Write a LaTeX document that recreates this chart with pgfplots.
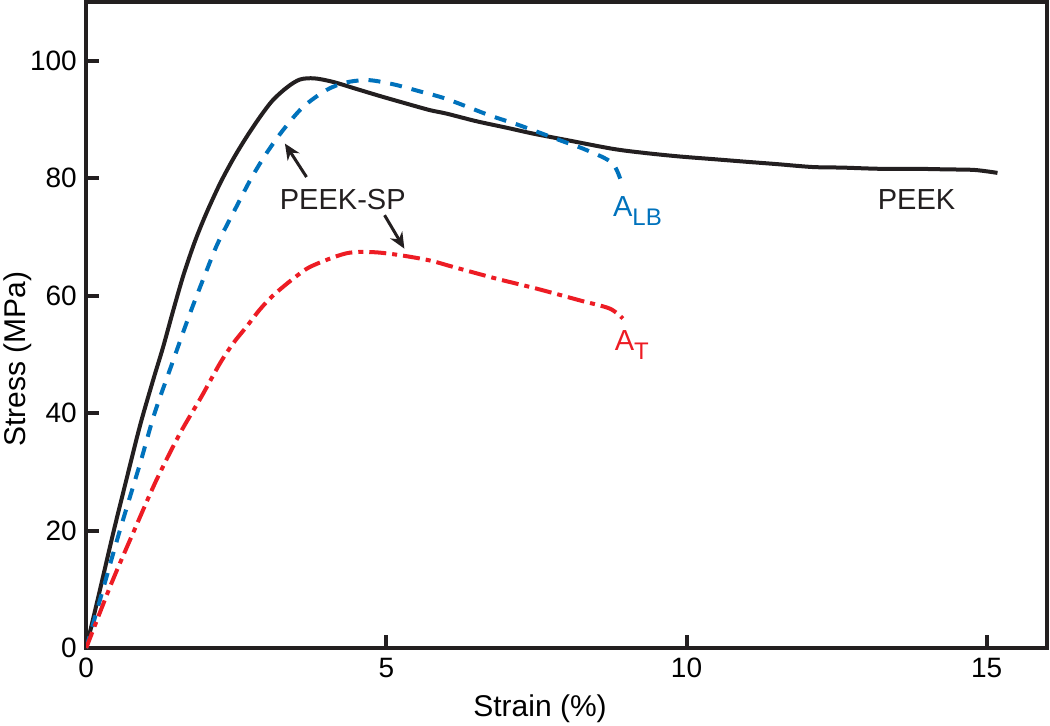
\documentclass[border=0pt]{standalone}
\usepackage{pgfplots}
\pgfplotsset{compat=1.18}
\usepackage{fontspec}
\setmainfont{Liberation Sans}
\usetikzlibrary{arrows.meta}
\definecolor{myblue}{RGB}{0,114,188}
\definecolor{myred}{RGB}{237,28,36}
\definecolor{myblack}{RGB}{35,31,32}
\begin{document}
\begin{tikzpicture}
\useasboundingbox (-43.1pt,-38.5pt) rectangle (481.9pt,324pt);
\begin{axis}[
  scale only axis, width=480.25pt, height=323pt,
  xmin=0, xmax=16, ymin=0, ymax=110,
  xtick={0,5,10,15}, ytick={0,20,40,60,80,100},
  tick align=inside, xtick pos=bottom, ytick pos=left,
  major tick length=6.5pt,
  major tick style={line width=2pt, myblack},
  axis line style={line width=2.2pt, myblack},
  /pgf/number format/assume math mode=true,
  ticklabel style={font=\fontsize{14}{16}\selectfont},
  yticklabel style={inner sep=0pt, anchor=east, xshift=-4.5pt},
  xticklabel style={inner sep=0pt, anchor=north, yshift=-5pt},
  xlabel={Strain (\%)}, ylabel={Stress (MPa)},
  label style={font=\fontsize{15}{18}\selectfont, inner sep=0pt},
  xlabel style={at={(axis description cs:0.4725,-0.1053)}, anchor=base},
  ylabel style={at={(axis description cs:-0.0635,0.447)}, anchor=base},
]
\addplot[myblack, line width=2pt, smooth, tension=0.5] coordinates {
(0,0) (0.22,9.5) (0.46,20) (0.69,29.5) (0.9,38) (1.12,45.8) (1.28,51.2) (1.45,57.5)
(1.62,63.5) (1.81,69.2) (2.0,74) (2.23,79.1) (2.45,83.3) (2.67,87.0) (2.9,90.5)
(3.11,93.3) (3.35,95.5) (3.56,96.8) (3.8,97.0) (4.11,96.4) (4.5,95.2) (4.89,94.0)
(5.3,92.8) (5.72,91.6) (6.0,91.0) (6.5,89.7) (7.0,88.6) (7.44,87.6) (8.0,86.5)
(8.77,85.0) (9.3,84.3) (9.88,83.7) (10.5,83.2) (10.99,82.8) (11.5,82.4) (12.1,81.9)
(12.6,81.8) (13.21,81.6) (13.8,81.6) (14.32,81.5) (14.8,81.4) (15.18,80.9)
};
\addplot[myblue, line width=2pt, smooth, tension=0.5, dash pattern=on 6pt off 5pt] coordinates {
(0,0) (0.28,10) (0.56,20) (0.9,31.5) (1.14,40) (1.44,48.7) (1.73,57) (2.03,64.9)
(2.2,69.1) (2.5,75.1) (2.75,80) (3.0,84.2) (3.28,88.2) (3.61,92.1)
(4.0,95.0) (4.33,96.3) (4.7,96.7) (5.11,96.0) (5.55,94.8) (6.0,93.5) (6.72,90.7)
(7.22,89.0) (7.88,86.5) (8.33,84.8) (8.77,82.5) (8.94,78.5)
};
\addplot[myred, line width=2pt, smooth, tension=0.5, dash pattern=on 8.5pt off 3pt on 2.5pt off 3pt] coordinates {
(0,0) (0.42,11) (0.82,20.5) (1.17,28.6) (1.56,36.5) (1.92,42.8) (2.23,48.5) (2.45,51.9)
(2.67,54.7) (2.89,57.6) (3.11,60.0) (3.45,62.9) (3.75,65.0) (4.33,67.2) (4.78,67.4)
(5.22,66.9) (5.72,66.0) (6.11,64.9) (6.83,62.9) (7.5,61.2) (8.22,59.2) (8.72,57.8) (8.94,56.1)
};
\node[anchor=base west, inner sep=0pt, font=\fontsize{14.5}{17}\selectfont, myblack] at (axis cs:3.22,74.66) {PEEK-SP};
\node[anchor=base west, inner sep=0pt, font=\fontsize{14.5}{17}\selectfont, myblack] at (axis cs:13.18,74.7) {PEEK};
\node[anchor=base west, inner sep=0pt, font=\fontsize{14.5}{17}\selectfont, myblue] at (axis cs:8.77,73.4) {A\raisebox{-4.5pt}{\fontsize{12}{14}\selectfont LB}};
\node[anchor=base west, inner sep=0pt, font=\fontsize{14.5}{17}\selectfont, myred] at (axis cs:8.8,50.7) {A\raisebox{-4.5pt}{\fontsize{12}{14}\selectfont T}};
\draw[myblack, line width=1.5pt, -{Stealth[length=8pt,width=7pt]}] (axis cs:3.67,80.2) -- (axis cs:3.31,85.9);
\draw[myblack, line width=1.5pt, -{Stealth[length=8pt,width=7pt]}] (axis cs:4.97,73.7) -- (axis cs:5.30,68.0);
\end{axis}
\end{tikzpicture}
\end{document}
